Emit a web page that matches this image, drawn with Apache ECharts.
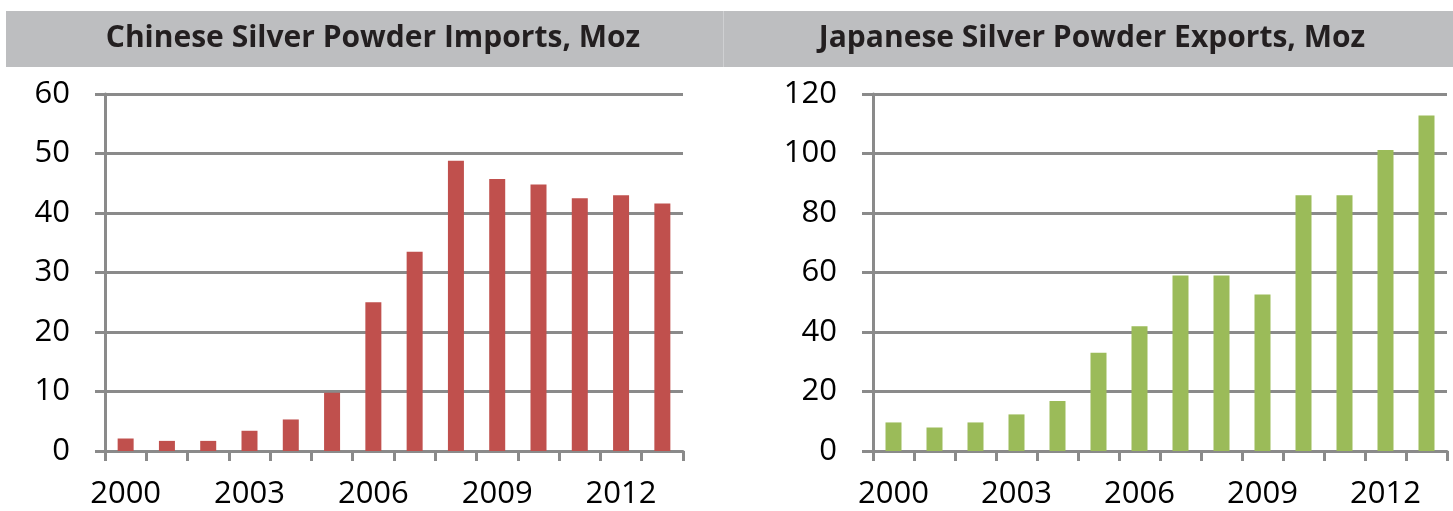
<!DOCTYPE html>
<html>
<head>
<meta charset="utf-8">
<script src="https://cdn.jsdelivr.net/npm/echarts@6/dist/echarts.min.js"></script>
<style>
  html, body { margin: 0; padding: 0; background: #fff; }
  #chart { width: 1453px; height: 511px; }
</style>
</head>
<body>
<div id="chart"></div>
<script>
var years = ['2000','2001','2002','2003','2004','2005','2006','2007','2008','2009','2010','2011','2012','2013'];
var chinaImports = [2.1, 1.7, 1.7, 3.4, 5.3, 9.8, 25.0, 33.5, 48.8, 45.7, 44.8, 42.5, 43.0, 41.6];
var japanExports = [9.6, 7.9, 9.6, 12.3, 16.8, 33.0, 41.9, 59.0, 59.0, 52.6, 86.0, 86.0, 101.2, 112.8];
var leftTicks = [0, 60, 10];
var rightTicks = [0, 120, 20];

var chart = echarts.init(document.getElementById('chart'));
var labelFont = { fontFamily: 'Open Sans', fontSize: 31, color: '#000' };
var axisGray = { color: '#8a8a8a', width: 3 };

function xAxis(idx) {
  return {
    type: 'category', gridIndex: idx, data: years,
    axisLine: { lineStyle: axisGray },
    axisTick: { show: true, interval: 0, length: 10, lineStyle: axisGray },
    axisLabel: Object.assign({ interval: 2, margin: 28 }, labelFont)
  };
}
function yAxis(idx, t, margin, tickLen) {
  return {
    type: 'value', gridIndex: idx, min: t[0], max: t[1], interval: t[2],
    axisLine: { show: true, lineStyle: axisGray },
    axisTick: { show: true, length: tickLen, lineStyle: axisGray },
    axisLabel: Object.assign({ margin: margin }, labelFont),
    splitLine: { lineStyle: axisGray }
  };
}

var titleStyle = { fontFamily: 'Open Sans', fontWeight: 'bold', fontSize: 30, color: '#231f20' };

chart.setOption({
  animation: false,
  graphic: [
    { type: 'rect', shape: { x: 6, y: 11, width: 1447, height: 56 }, style: { fill: '#bdbec0' }, z: -1 },
    { type: 'rect', shape: { x: 723, y: 11, width: 1, height: 56 }, style: { fill: '#cfd0d2' }, z: -1 }
  ],
  title: [
    { text: 'Chinese Silver Powder Imports, Moz', left: 368, top: 18, textAlign: 'center', textStyle: titleStyle },
    { text: 'Japanese Silver Powder Exports, Moz', left: 1087, top: 18, textAlign: 'center', textStyle: titleStyle }
  ],
  grid: [
    { left: 105, right: 770, top: 94, bottom: 60 },
    { left: 873, right: 6, top: 94, bottom: 60 }
  ],
  xAxis: [xAxis(0), xAxis(1)],
  yAxis: [yAxis(0, leftTicks, 35, 10), yAxis(1, rightTicks, 36, 11)],
  series: [
    { type: 'bar', xAxisIndex: 0, yAxisIndex: 0, data: chinaImports, barWidth: 16,
      itemStyle: { color: '#c0504d' } },
    { type: 'bar', xAxisIndex: 1, yAxisIndex: 1, data: japanExports, barWidth: 16,
      itemStyle: { color: '#9bbb59' } }
  ]
});
</script>
</body>
</html>
